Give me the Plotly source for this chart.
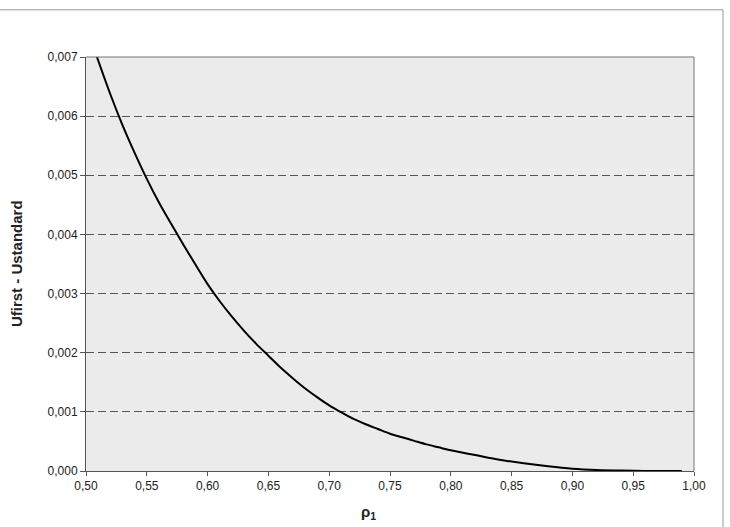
import plotly.graph_objects as go

rho1 = [0.509, 0.52, 0.53, 0.54, 0.55, 0.56, 0.57, 0.58, 0.59, 0.60, 0.61, 0.62, 0.63, 0.64,
        0.65, 0.66, 0.67, 0.68, 0.69, 0.70, 0.71, 0.72, 0.73, 0.74, 0.75, 0.76, 0.77, 0.78,
        0.79, 0.80, 0.82, 0.84, 0.86, 0.88, 0.90, 0.92, 0.94, 0.96, 0.99]
diff = [0.0070, 0.00637, 0.00585, 0.00538, 0.00494, 0.00454, 0.00418, 0.00383, 0.00349,
        0.00316, 0.00287, 0.00261, 0.00237, 0.00215, 0.00195, 0.00175, 0.00157, 0.00140,
        0.00125, 0.00111, 0.00099, 0.00088, 0.00079, 0.00071, 0.00063, 0.00057, 0.00051,
        0.00045, 0.00040, 0.00035, 0.00027, 0.00019, 0.00013, 0.00008, 0.00004, 0.000018,
        0.000007, 0.000002, 0.0]

x_ticks = [0.50, 0.55, 0.60, 0.65, 0.70, 0.75, 0.80, 0.85, 0.90, 0.95, 1.00]
y_ticks = [0.000, 0.001, 0.002, 0.003, 0.004, 0.005, 0.006, 0.007]

fig = go.Figure()
fig.add_trace(go.Scatter(x=rho1, y=diff, mode="lines",
                         line=dict(color="black", width=2, shape="spline", smoothing=0.8),
                         showlegend=False, hoverinfo="skip"))

FAM = "Liberation Sans, Arial, sans-serif"
font = dict(family=FAM, size=12, color="#222")

fig.update_layout(
    width=730, height=527,
    margin=dict(l=86, r=36, t=57, b=56),
    paper_bgcolor="white",
    plot_bgcolor="#ebebeb",
    separators=", ",
    font=font,
    xaxis=dict(range=[0.5, 1.0], tickvals=x_ticks, tickformat=".2f",
               showgrid=False, zeroline=False,
               showline=True, linecolor="#555", linewidth=1, mirror=False,
               ticks="outside", ticklen=4, tickcolor="#555", tickfont=font),
    yaxis=dict(range=[0, 0.007], tickvals=y_ticks, tickformat=".3f",
               showgrid=True, gridcolor="#555", griddash="8px,4px", gridwidth=1,
               zeroline=False,
               showline=True, linecolor="#555", linewidth=1, mirror=False,
               ticks="outside", ticklen=5, tickcolor="#555", tickfont=font),
    shapes=[
        dict(type="line", xref="paper", yref="paper", x0=0, x1=1, y0=1, y1=1,
             line=dict(color="#777", width=1)),
        dict(type="line", xref="paper", yref="paper", x0=1, x1=1, y0=0, y1=1,
             line=dict(color="#777", width=1)),
        dict(type="line", xref="paper", yref="paper", x0=-0.145, x1=1.0477,
             y0=1.114, y1=1.114, line=dict(color="#999", width=1)),
        dict(type="line", xref="paper", yref="paper", x0=1.0477, x1=1.0477,
             y0=1.114, y1=-0.14, line=dict(color="#999", width=1)),
    ],
    annotations=[
        dict(text="<b>Ufirst - Ustandard</b>", xref="paper", yref="paper",
             x=-0.115, y=0.5, textangle=-90, showarrow=False,
             xanchor="center", yanchor="middle",
             font=dict(family=FAM, size=15, color="#222")),
        dict(text="<b>ρ<sub>1</sub></b>", xref="paper", yref="paper",
             x=0.464, y=-0.101, showarrow=False, xanchor="center", yanchor="middle",
             font=dict(family=FAM, size=15, color="#222")),
    ],
)

fig.write_html("out.html")
